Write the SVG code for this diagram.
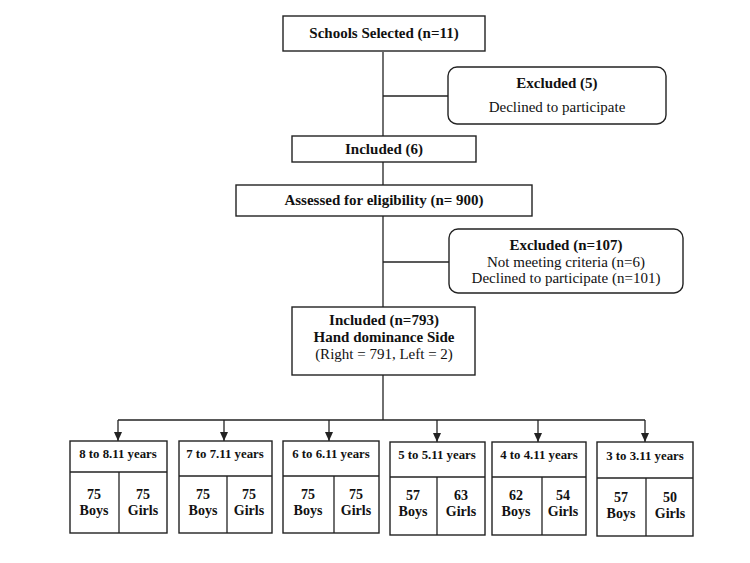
<svg xmlns="http://www.w3.org/2000/svg" width="750" height="563" viewBox="0 0 750 563">
<defs>
<style>
.box{fill:#fff;stroke:#222;stroke-width:1.4}
.ln{fill:none;stroke:#222;stroke-width:1.3}
text{font-family:"Liberation Serif","Times New Roman",serif;fill:#111;text-anchor:middle}
.b{font-weight:bold;font-size:15px}
.r{font-size:15px}
.n{font-weight:bold;font-size:14px}
.h{font-weight:bold;font-size:12.8px}
</style>
<marker id="ad" markerWidth="8" markerHeight="9" refX="4" refY="9" orient="0" markerUnits="userSpaceOnUse" viewBox="0 0 8 9">
<path d="M0,0 L8,0 L4,9 Z" fill="#222"/>
</marker>
</defs>
<rect width="750" height="563" fill="#fff"/>
<g id="connectors">
<line class="ln" x1="383" y1="52" x2="383" y2="136"/>
<line class="ln" x1="383" y1="96" x2="448" y2="96"/>
<line class="ln" x1="383" y1="162" x2="383" y2="185"/>
<line class="ln" x1="383" y1="216" x2="383" y2="307"/>
<line class="ln" x1="383" y1="262" x2="449" y2="262"/>
<line class="ln" x1="383" y1="375" x2="383" y2="420"/>
<line class="ln" x1="118" y1="420" x2="645" y2="420"/>
<line class="ln" x1="118" y1="420" x2="118" y2="441" marker-end="url(#ad)"/>
<line class="ln" x1="224" y1="420" x2="224" y2="441" marker-end="url(#ad)"/>
<line class="ln" x1="329" y1="420" x2="329" y2="441" marker-end="url(#ad)"/>
<line class="ln" x1="437" y1="420" x2="437" y2="442" marker-end="url(#ad)"/>
<line class="ln" x1="538" y1="420" x2="538" y2="442" marker-end="url(#ad)"/>
<line class="ln" x1="645" y1="420" x2="645" y2="442" marker-end="url(#ad)"/>
</g>
<g id="schools">
<rect class="box" x="283" y="16" width="202" height="35"/>
<text class="b" x="384" y="38">Schools Selected (n=11)</text>
</g>
<g id="excluded5">
<rect class="box" x="448" y="67" width="218" height="57" rx="9"/>
<text class="b" x="557" y="88">Excluded (5)</text>
<text class="r" x="557" y="112">Declined to participate</text>
</g>
<g id="included6">
<rect class="box" x="292" y="136" width="184" height="26"/>
<text class="b" x="384" y="154">Included (6)</text>
</g>
<g id="assessed">
<rect class="box" x="236" y="185" width="296" height="31"/>
<text class="b" x="384" y="205">Assessed for eligibility (n= 900)</text>
</g>
<g id="excluded107">
<rect class="box" x="449" y="229" width="234" height="64" rx="9"/>
<text class="b" x="566" y="250">Excluded (n=107)</text>
<text class="r" x="566" y="267">Not meeting criteria (n=6)</text>
<text class="r" x="566" y="283">Declined to participate (n=101)</text>
</g>
<g id="included793">
<rect class="box" x="292" y="307" width="183" height="68"/>
<text class="b" x="384" y="325">Included (n=793)</text>
<text class="b" x="384" y="342">Hand dominance Side</text>
<text class="r" x="384" y="359">(Right = 791, Left = 2)</text>
</g>
<g id="age8">
<rect class="box" x="70" y="441" width="97" height="92"/>
<line class="ln" x1="70" y1="472" x2="167" y2="472"/>
<line class="ln" x1="119" y1="472" x2="119" y2="533"/>
<text class="h" x="118" y="458">8 to 8.11 years</text>
<text class="n" x="94" y="499">75</text><text class="n" x="94" y="515">Boys</text>
<text class="n" x="143" y="499">75</text><text class="n" x="143" y="515">Girls</text>
</g>
<g id="age7">
<rect class="box" x="179" y="441" width="93" height="92"/>
<line class="ln" x1="179" y1="476" x2="272" y2="476"/>
<line class="ln" x1="227" y1="476" x2="227" y2="533"/>
<text class="h" x="225" y="458">7 to 7.11 years</text>
<text class="n" x="203" y="499">75</text><text class="n" x="203" y="515">Boys</text>
<text class="n" x="249" y="499">75</text><text class="n" x="249" y="515">Girls</text>
</g>
<g id="age6">
<rect class="box" x="283" y="441" width="96" height="92"/>
<line class="ln" x1="283" y1="476" x2="379" y2="476"/>
<line class="ln" x1="334" y1="476" x2="334" y2="533"/>
<text class="h" x="331" y="458">6 to 6.11 years</text>
<text class="n" x="308" y="499">75</text><text class="n" x="308" y="515">Boys</text>
<text class="n" x="356" y="499">75</text><text class="n" x="356" y="515">Girls</text>
</g>
<g id="age5">
<rect class="box" x="390" y="442" width="95" height="93"/>
<line class="ln" x1="390" y1="477" x2="485" y2="477"/>
<line class="ln" x1="437" y1="477" x2="437" y2="535"/>
<text class="h" x="437" y="459">5 to 5.11 years</text>
<text class="n" x="413" y="500">57</text><text class="n" x="413" y="516">Boys</text>
<text class="n" x="461" y="500">63</text><text class="n" x="461" y="516">Girls</text>
</g>
<g id="age4">
<rect class="box" x="492" y="442" width="94" height="93"/>
<line class="ln" x1="492" y1="477" x2="586" y2="477"/>
<line class="ln" x1="542" y1="477" x2="542" y2="535"/>
<text class="h" x="539" y="459">4 to 4.11 years</text>
<text class="n" x="516" y="500">62</text><text class="n" x="516" y="516">Boys</text>
<text class="n" x="563" y="500">54</text><text class="n" x="563" y="516">Girls</text>
</g>
<g id="age3">
<rect class="box" x="597" y="442" width="96" height="94"/>
<line class="ln" x1="597" y1="478" x2="693" y2="478"/>
<line class="ln" x1="646" y1="478" x2="646" y2="536"/>
<text class="h" x="645" y="460">3 to 3.11 years</text>
<text class="n" x="621" y="502">57</text><text class="n" x="621" y="518">Boys</text>
<text class="n" x="670" y="502">50</text><text class="n" x="670" y="518">Girls</text>
</g>
</svg>
